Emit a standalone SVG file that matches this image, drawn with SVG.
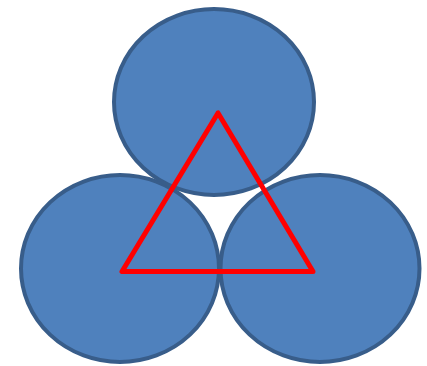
<svg xmlns="http://www.w3.org/2000/svg" width="427" height="366" viewBox="0 0 427 366">
<style>
.c{fill:#4F81BD;stroke:#385D8A;stroke-width:4}
.t{fill:none;stroke:#FF0000;stroke-width:5;stroke-linejoin:round}
</style>
<rect width="427" height="366" fill="#FFFFFF"/>
<g id="circle-left"><ellipse class="c" cx="120" cy="268.5" rx="99" ry="93.5"/></g>
<g id="circle-right"><ellipse class="c" cx="320" cy="268.5" rx="99.5" ry="93.5"/></g>
<g id="circle-top"><ellipse class="c" cx="214" cy="102" rx="100" ry="93"/></g>
<g id="connectors"><polygon class="t" points="218,113 122,271.5 313,271.5"/></g>
</svg>
